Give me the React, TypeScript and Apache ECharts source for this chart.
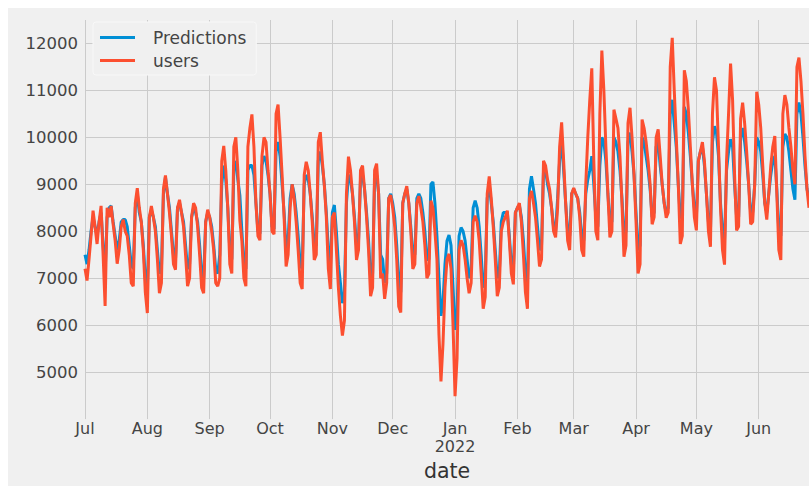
import React, { useEffect, useRef } from 'react';
import * as echarts from 'echarts';

// first day of the daily series (UTC)
const startDate = '2021-07-01';
const monthLabels = ['Jan', 'Feb', 'Mar', 'Apr', 'May', 'Jun', 'Jul', 'Aug', 'Sep', 'Oct', 'Nov', 'Dec'];
const yearLabel = '2022';
const seriesNames = ['Predictions', 'users'];
const axisName = 'date';

// daily users, Jul 1 2021 .. Jun 26 2022 (rows = Mon..Sun weeks, first row Thu..Sun)
const users = [
  7200, 6950, 7400, 7900,
  8440, 8100, 7730, 8200, 8540, 7500, 6410,
  8500, 8300, 8540, 8150, 7800, 7310, 7600,
  8100, 8250, 8000, 7900, 7500, 6900, 6830,
  8600, 8920, 8500, 8200, 7600, 6700, 6260,
  8300, 8540, 8300, 8000, 7400, 6680, 6900,
  8900, 9190, 8800, 8400, 7900, 7300, 7180,
  8500, 8670, 8400, 8100, 7500, 6830, 7000,
  8300, 8600, 8500, 8100, 7500, 6800, 6680,
  8200, 8460, 8300, 8000, 7600, 6900, 6830,
  7000, 9500, 9820, 9300, 8500, 7300, 7100,
  9800, 10000, 9300, 8230, 7800, 7000, 6830,
  9800, 10200, 10490, 9800, 8600, 7900, 7810,
  9600, 10000, 9900, 9300, 8800, 8000, 7940,
  10500, 10700, 10000, 9200, 8300, 7250, 7500,
  8500, 9000, 8700, 8200, 7600, 6900, 6770,
  9200, 9480, 9300, 8800, 8200, 7390, 7500,
  9900, 10110, 9500, 8980, 8300, 7200, 6770,
  8300, 8400, 7600, 6800, 6200, 5780, 6100,
  8800, 9590, 9300, 8800, 8200, 7390, 7600,
  9300, 9400, 8900, 8300, 7600, 6620, 6800,
  9300, 9440, 8800, 7000, 7100, 6560, 6900,
  8700, 8770, 8500, 8100, 7400, 6400, 6270,
  8600, 8800, 8960, 8600, 8000, 7200, 7300,
  8600, 8750, 8500, 8200, 7700, 7000, 7100,
  8650, 8500, 8000, 7400, 5800, 4800, 5600,
  6800, 7400, 7520, 7200, 6000, 4490, 5300,
  7600, 7810, 7700, 7400, 7000, 6680, 6900,
  8200, 8330, 8200, 7800, 7100, 6350, 6600,
  8800, 9170, 8700, 8100, 7400, 6620, 6800,
  8000, 8200, 8300, 8440, 7800, 7100, 6870,
  8400, 8500, 8600, 8200, 7500, 6700, 6350,
  8700, 8860, 8600, 8300, 7800, 7250, 7400,
  9500, 9400, 9100, 8900, 8500, 8000, 7870,
  8500, 9800, 10320, 9500, 8600, 7800, 7600,
  8800, 8920, 8800, 8700, 8300, 7600, 7460,
  9000, 10000, 10800, 11470, 9500, 8000, 7810,
  10500, 11850, 11000, 9800, 8800, 7870, 8000,
  10590, 10400, 10200, 9600, 8600, 7460, 7700,
  10300, 10630, 10000, 9200, 8200, 7100, 7300,
  10380, 10200, 9900, 9500, 9000, 8150, 8300,
  10000, 10170, 9600, 9000, 8600, 8290, 8400,
  11500, 12120, 11000, 10000, 9000, 7730, 7900,
  11430, 11200, 10600, 9800, 9000, 8300, 8020,
  9500, 9700, 9900, 9500, 8800, 8000, 7670,
  10500, 11280, 11000, 9800, 8500, 7600, 7290,
  9500, 10500, 11570, 10800, 9200, 8020, 8100,
  10400, 10740, 10300, 9700, 9000, 8150, 8200,
  9000, 10970, 10700, 10200, 9400, 8600, 8250,
  8800, 9400, 9800, 10030, 8800, 7600, 7390,
  10500, 10900, 10700, 10200, 9800, 9300, 9000,
  11500, 11700, 11200, 10500, 9600, 8900, 8500,
];

const predictions = [
  7500, 7300, 7600, 8000,
  8300, 8100, 7900, 8200, 8400, 7700, 7100,
  8300, 8500, 8540, 8200, 7900, 7600, 7800,
  8200, 8250, 8250, 8100, 7700, 7300, 7200,
  8500, 8800, 8400, 8200, 7700, 7000, 6800,
  8300, 8450, 8300, 8100, 7600, 7100, 7200,
  8800, 9150, 8800, 8500, 8000, 7500, 7400,
  8500, 8600, 8400, 8200, 7700, 7200, 7300,
  8300, 8500, 8400, 8200, 7700, 7100, 7000,
  8200, 8400, 8300, 8100, 7700, 7200, 7100,
  7500, 9000, 9400, 9100, 8500, 7600, 7400,
  9300, 9500, 9100, 8770, 8000, 7300, 7200,
  9300, 9400, 9400, 9200, 8600, 8000, 7950,
  9400, 9600, 9500, 9200, 8800, 8100, 8050,
  9700, 9900, 9600, 9000, 8400, 7600, 7800,
  8700, 9000, 8800, 8400, 7900, 7300, 7200,
  9000, 9200, 9100, 8800, 8300, 7700, 7700,
  9500, 9700, 9400, 9000, 8400, 7600, 7200,
  8400, 8560, 8000, 7300, 6900, 6470, 6700,
  8600, 9200, 9100, 8800, 8300, 7700, 7800,
  9100, 9200, 8900, 8400, 7800, 7000, 7100,
  9100, 9200, 8800, 7500, 7400, 6900, 7100,
  8700, 8800, 8600, 8300, 7700, 6900, 6700,
  8600, 8800, 8900, 8600, 8100, 7500, 7500,
  8700, 8800, 8700, 8400, 8000, 7400, 7400,
  9000, 9050, 8600, 7900, 7000, 6200, 6500,
  7300, 7800, 7920, 7700, 6800, 5900, 6300,
  7900, 8080, 8000, 7800, 7400, 7000, 7200,
  8500, 8650, 8500, 8100, 7500, 6800, 7000,
  8700, 9000, 8600, 8200, 7600, 7000, 7100,
  8200, 8400, 8400, 8400, 7900, 7300, 7200,
  8400, 8500, 8550, 8300, 7800, 7100, 6900,
  8900, 9170, 8900, 8600, 8100, 7600, 7700,
  9300, 9300, 9000, 8800, 8500, 8100, 8000,
  8700, 9500, 10000, 9300, 8600, 8000, 7900,
  8800, 8900, 8800, 8700, 8400, 7900, 7800,
  8800, 9100, 9300, 9600, 9000, 8300, 8100,
  9400, 10000, 9900, 9500, 8800, 8200, 8200,
  10000, 9900, 9700, 9300, 8700, 7900, 8000,
  9900, 10100, 9700, 9200, 8400, 7600, 7700,
  10000, 9900, 9600, 9300, 8900, 8300, 8400,
  9800, 9900, 9400, 9000, 8600, 8400, 8500,
  10500, 10800, 10300, 9800, 9000, 8300, 8300,
  10650, 10500, 10100, 9600, 9000, 8500, 8300,
  9500, 9700, 9800, 9400, 8800, 8200, 8000,
  9900, 10240, 10100, 9600, 8600, 8000, 7800,
  9300, 9700, 9960, 9800, 9000, 8300, 8300,
  10000, 10200, 9900, 9500, 9000, 8400, 8400,
  9000, 10000, 9900, 9700, 9200, 8600, 8400,
  8800, 9200, 9500, 9600, 8900, 8000, 7900,
  9800, 10070, 10000, 9700, 9300, 8900, 8670,
  10500, 10740, 10500, 10000, 9400, 8900, 8700,
];

const FONT = 'DejaVu Sans';
const TEXT = '#444444';

export default function App() {
  const ref = useRef<HTMLDivElement>(null);

  useEffect(() => {
    if (!ref.current) return;
    const chart = echarts.init(ref.current, undefined, { renderer: 'svg' });
    const DAY = 86400000;
    const t0 = Date.parse(startDate + 'T00:00:00Z');
    const toPairs = (arr: number[]) => arr.map((v, i) => [t0 + i * DAY, v]);
    const tEnd = t0 + (users.length - 1) * DAY;

    chart.setOption({
      animation: false,
      useUTC: true,
      backgroundColor: '#f0f0f0',
      grid: { left: 77, right: 0, top: 12, height: 406, containLabel: false },
      legend: {
        data: seriesNames,
        orient: 'vertical',
        left: 85,
        top: 14,
        padding: [7, 10, 6, 7],
        itemWidth: 35,
        itemHeight: 3,
        itemGap: 6,
        icon: 'rect',
        backgroundColor: '#f0f0f0',
        borderColor: '#f8f8f8',
        borderWidth: 1,
        borderRadius: 3,
        textStyle: {
          fontFamily: FONT,
          fontSize: 17,
          color: TEXT,
          lineHeight: 16,
          padding: [0, 0, 0, 13],
        },
      },
      xAxis: {
        type: 'time',
        min: t0,
        max: tEnd,
        splitNumber: 12,
        axisLine: { show: false },
        axisTick: { show: false },
        splitLine: { show: true, showMinLine: false, showMaxLine: false, lineStyle: { color: '#cbcbcb', width: 1 } },
        axisLabel: {
          fontFamily: FONT,
          fontSize: 16,
          color: TEXT,
          lineHeight: 18,
          margin: 0,
          hideOverlap: false,
          formatter: (val: number) => {
            const m = new Date(val).getUTCMonth();
            return m === 0 ? monthLabels[0] + '\n' + yearLabel : monthLabels[m];
          },
        },
        name: axisName,
        nameLocation: 'middle',
        nameGap: 33,
        nameTextStyle: { fontFamily: FONT, fontSize: 20.5, color: '#333333' },
      },
      yAxis: {
        type: 'value',
        min: 4000,
        max: 12500,
        interval: 1000,
        axisLine: { show: false },
        axisTick: { show: false },
        splitLine: { show: true, showMinLine: false, showMaxLine: false, lineStyle: { color: '#cbcbcb', width: 1 } },
        axisLabel: {
          fontFamily: FONT,
          fontSize: 16.5,
          color: TEXT,
          margin: 7,
          showMinLabel: false,
          showMaxLabel: false,
          formatter: (v: number) => String(v),
        },
      },
      series: [
        {
          name: seriesNames[0],
          type: 'line',
          data: toPairs(predictions),
          showSymbol: false,
          symbol: 'none',
          lineStyle: { width: 3, color: '#008fd5' },
          itemStyle: { color: '#008fd5' },
          z: 2,
        },
        {
          name: seriesNames[1],
          type: 'line',
          data: toPairs(users),
          showSymbol: false,
          symbol: 'none',
          lineStyle: { width: 3, color: '#fc4f30' },
          itemStyle: { color: '#fc4f30' },
          z: 3,
        },
      ],
    });

    return () => chart.dispose();
  }, []);

  return (
    <div
      ref={ref}
      style={{ position: 'fixed', left: 8, top: 8, width: 801, height: 478, background: '#f0f0f0' }}
    />
  );
}
